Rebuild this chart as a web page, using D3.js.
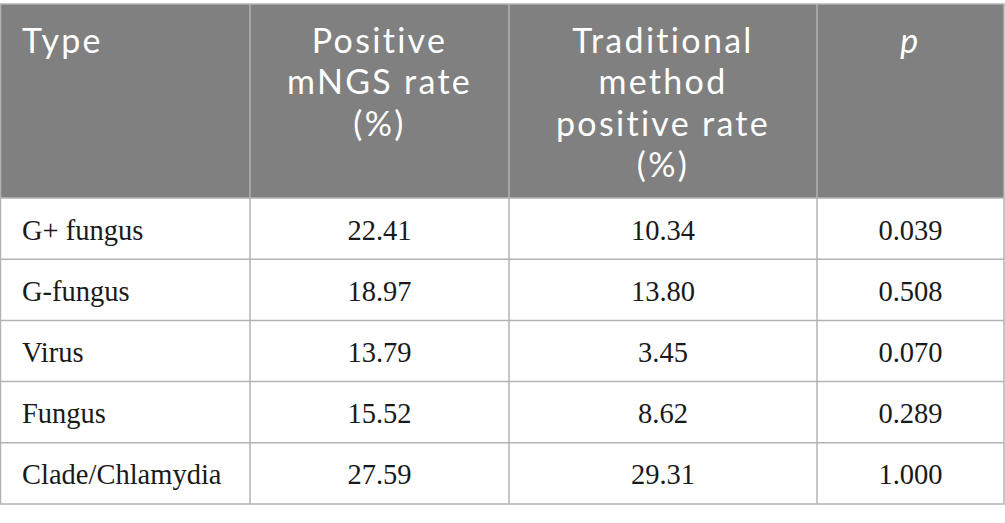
<!DOCTYPE html>
<html>
<head>
<meta charset="utf-8">
<script src="https://cdn.jsdelivr.net/npm/d3@7"></script>
<style>
  body { margin: 0; background: #fff; }
  svg { display: block; }
</style>
</head>
<body>
<script>
// table content
var types = ["G+ fungus", "G-fungus", "Virus", "Fungus", "Clade/Chlamydia"];
var mngsRate = ["22.41", "18.97", "13.79", "15.52", "27.59"];
var tradRate = ["10.34", "13.80", "3.45", "8.62", "29.31"];
var pValues = ["0.039", "0.508", "0.070", "0.289", "1.000"];
var headers = [["Type"], ["Positive", "mNGS rate", "(%)"],
               ["Traditional", "method", "positive rate", "(%)"], ["p"]];

var W = 1005, H = 523;
var top0 = 4, headBottom = 198, bottom = 504;
var colEdges = [0.5, 250, 509, 817, 1004];
var lineCol = "#b3b3b3";

var svg = d3.select("body").append("svg").attr("width", W).attr("height", H);

// rows
var y = d3.scaleBand().domain(types).range([headBottom, bottom]);

var columns = [types, mngsRate, tradRate, pValues];

// header background
svg.append("rect")
    .attr("x", colEdges[0]).attr("y", top0)
    .attr("width", colEdges[4] - colEdges[0]).attr("height", headBottom - top0)
    .attr("fill", "#808080");

// grid lines
types.forEach(function(t, i) {
  if (i == 0) return;
  svg.append("line")
      .attr("x1", colEdges[0]).attr("x2", colEdges[4])
      .attr("y1", y(t)).attr("y2", y(t))
      .attr("stroke", lineCol).attr("stroke-width", 1.5);
});
svg.append("line").attr("x1", colEdges[0]).attr("x2", colEdges[4])
    .attr("y1", headBottom).attr("y2", headBottom)
    .attr("stroke", lineCol).attr("stroke-width", 1.5);
colEdges.slice(1, 4).forEach(function(x) {
  svg.append("line").attr("x1", x).attr("x2", x)
      .attr("y1", top0).attr("y2", bottom)
      .attr("stroke", lineCol).attr("stroke-width", 1.5);
});
svg.append("rect")
    .attr("x", colEdges[0]).attr("y", top0)
    .attr("width", colEdges[4] - colEdges[0]).attr("height", bottom - top0)
    .attr("fill", "none").attr("stroke", lineCol).attr("stroke-width", 1.5);

// header text, one line per tspan
headers.forEach(function(lines, c) {
  var left = c == 0;
  var x = left ? 22 : (colEdges[c] + colEdges[c + 1]) / 2;
  var t = svg.append("text")
      .attr("x", x).attr("y", 53)
      .attr("text-anchor", left ? "start" : "middle")
      .attr("fill", "#fff")
      .style("font-family", "Lato, sans-serif")
      .style("font-weight", 400)
      .style("font-size", "34px")
      .style("letter-spacing", "2.3px")
      .style("font-style", c == 3 ? "italic" : "normal");
  lines.forEach(function(l, i) {
    t.append("tspan").attr("x", x).attr("dy", i == 0 ? 0 : 41.3).text(l);
  });
});

// body cells
columns.forEach(function(vals, c) {
  var left = c == 0;
  svg.selectAll("text.c" + c)
    .data(vals)
    .enter().append("text")
      .attr("class", "c" + c)
      .attr("x", left ? 22 : (colEdges[c] + colEdges[c + 1]) / 2)
      .attr("y", function(d, i) { return y(types[i]) + y.bandwidth() / 2 + 11; })
      .attr("text-anchor", left ? "start" : "middle")
      .attr("fill", "#1a1a1a")
      .style("font-family", "'Liberation Serif', serif")
      .style("font-size", "28.5px")
      .text(function(d) { return d; });
});
</script>
</body>
</html>
